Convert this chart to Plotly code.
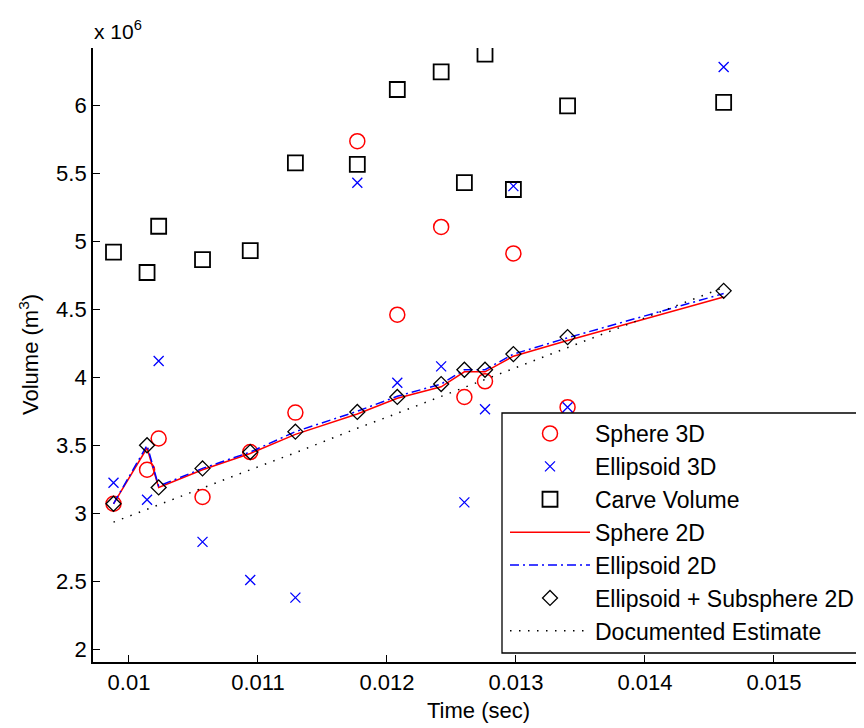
import plotly.graph_objects as go

# Data (volume in units of 1e6 m^3)
time_sec = [0.00988, 0.01014, 0.01023, 0.01057, 0.01094, 0.01129, 0.01177,
            0.01208, 0.01242, 0.01260, 0.01276, 0.01298, 0.01340, 0.01461]
sphere_3d = [3.07, 3.32, 3.55, 3.12, 3.45, 3.74, 5.735, 4.46, 5.105, 3.855,
             3.97, 4.91, 3.78, None]
ellipsoid_3d = [3.225, 3.10, 4.12, 2.79, 2.51, 2.38, 5.43, 3.96, 4.08, 3.08,
                3.765, 5.405, 3.78, 6.28]
carve_volume = [4.92, 4.77, 5.11, 4.865, 4.93, 5.575, 5.565, 6.115, 6.245,
                5.43, 6.375, 5.38, 5.995, 6.02]
sphere_2d = [3.07, 3.48, 3.19, 3.32, 3.44, 3.58, 3.73, 3.845, 3.93, 4.04,
             4.04, 4.155, 4.27, 4.59]
ellipsoid_2d = [3.07, 3.50, 3.20, 3.33, 3.45, 3.60, 3.75, 3.86, 3.95, 4.055,
                4.055, 4.17, 4.29, 4.615]
ell_subsphere_2d = [3.07, 3.50, 3.19, 3.33, 3.45, 3.60, 3.745, 3.855, 3.95,
                    4.055, 4.055, 4.17, 4.295, 4.635]
documented = [2.935, 3.03, 3.065, 3.19, 3.32, 3.445, 3.625, 3.735, 3.86,
              3.925, 3.985, 4.065, 4.22, 4.66]

x_tickvals = [0.010, 0.011, 0.012, 0.013, 0.014, 0.015]
x_ticktext = ["0.01", "0.011", "0.012", "0.013", "0.014", "0.015"]
y_tickvals = [2, 2.5, 3, 3.5, 4, 4.5, 5, 5.5, 6]
y_ticktext = ["2", "2.5", "3", "3.5", "4", "4.5", "5", "5.5", "6"]

FONT = "Liberation Sans, Arial, sans-serif"

fig = go.Figure()
fig.add_trace(go.Scatter(x=time_sec, y=sphere_3d, mode="markers", name="Sphere 3D",
                         marker=dict(symbol="circle-open", size=15, color="#ff0000",
                                     line=dict(width=1.5, color="#ff0000"))))
fig.add_trace(go.Scatter(x=time_sec, y=ellipsoid_3d, mode="markers", name="Ellipsoid 3D",
                         marker=dict(symbol="x-thin-open", size=10, color="#0000ff",
                                     line=dict(width=1.3, color="#0000ff"))))
fig.add_trace(go.Scatter(x=time_sec, y=carve_volume, mode="markers", name="Carve Volume",
                         marker=dict(symbol="square-open", size=15, color="#000000",
                                     line=dict(width=1.8, color="#000000"))))
fig.add_trace(go.Scatter(x=time_sec, y=sphere_2d, mode="lines", name="Sphere 2D",
                         line=dict(color="#ff0000", width=1.5)))
fig.add_trace(go.Scatter(x=time_sec, y=ellipsoid_2d, mode="lines", name="Ellipsoid 2D",
                         line=dict(color="#0000ff", width=1.5, dash="9px,4px,2px,4px")))
fig.add_trace(go.Scatter(x=time_sec, y=ell_subsphere_2d, mode="markers",
                         name="Ellipsoid + Subsphere 2D",
                         marker=dict(symbol="diamond-open", size=11.5, color="#000000",
                                     line=dict(width=1.3, color="#000000"))))
fig.add_trace(go.Scatter(x=time_sec, y=documented, mode="lines", name="Documented Estimate",
                         line=dict(color="#000000", width=1.5, dash="1.5px,7.5px")))

# The page body adds an 8px offset, so the figure is 8px smaller and margins shift.
fig.update_layout(
    width=856, height=720,
    margin=dict(l=85, r=0, t=40, b=66, autoexpand=False),
    paper_bgcolor="white", plot_bgcolor="white",
    font=dict(family=FONT, size=22, color="#000000"),
    showlegend=True,
    legend=dict(x=(505 - 93) / 771, y=(663 - 413) / 614, xanchor="left", yanchor="top",
                bgcolor="rgba(0,0,0,0)", borderwidth=0,
                font=dict(family=FONT, size=23, color="#000000"),
                itemwidth=80, tracegroupgap=0),
    # legend frame (runs past the right edge, as in the original figure)
    shapes=[dict(type="rect", xref="paper", yref="paper",
                 x0=(502 - 93) / 771, x1=1.05,
                 y0=(662 - 653) / 614, y1=(662 - 413) / 614,
                 fillcolor="white", line=dict(color="#000000", width=1.3),
                 layer="above")],
    xaxis=dict(range=[0.009721, 0.015698], tickvals=x_tickvals, ticktext=x_ticktext,
               ticks="inside", ticklen=7, tickwidth=1.3, tickcolor="#000000",
               showline=True, linecolor="#000000", linewidth=1.8, mirror=False,
               showgrid=False, zeroline=False, automargin=False,
               tickfont=dict(family=FONT, size=22)),
    yaxis=dict(range=[1.907, 6.42], tickvals=y_tickvals, ticktext=y_ticktext,
               ticks="inside", ticklen=7, tickwidth=1.3, tickcolor="#000000",
               showline=True, linecolor="#000000", linewidth=1.8, mirror=False,
               showgrid=False, zeroline=False, automargin=False,
               tickfont=dict(family=FONT, size=22)),
    annotations=[
        dict(text="x 10<sup>6</sup>", xref="paper", yref="paper",
             x=0.0, y=1.0, xanchor="left", yanchor="bottom", showarrow=False,
             xshift=-1, yshift=3, font=dict(family=FONT, size=21)),
        dict(text="Time (sec)", xref="paper", yref="paper",
             x=0.5, y=0.0, xanchor="center", yanchor="middle", showarrow=False,
             yshift=-48, font=dict(family=FONT, size=22)),
        dict(text="Volume (m<sup>3</sup>)", xref="paper", yref="paper",
             x=0.0, y=0.5, xanchor="center", yanchor="middle", showarrow=False,
             xshift=-64, textangle=-90, font=dict(family=FONT, size=22)),
    ],
)

fig.write_html("out.html")
